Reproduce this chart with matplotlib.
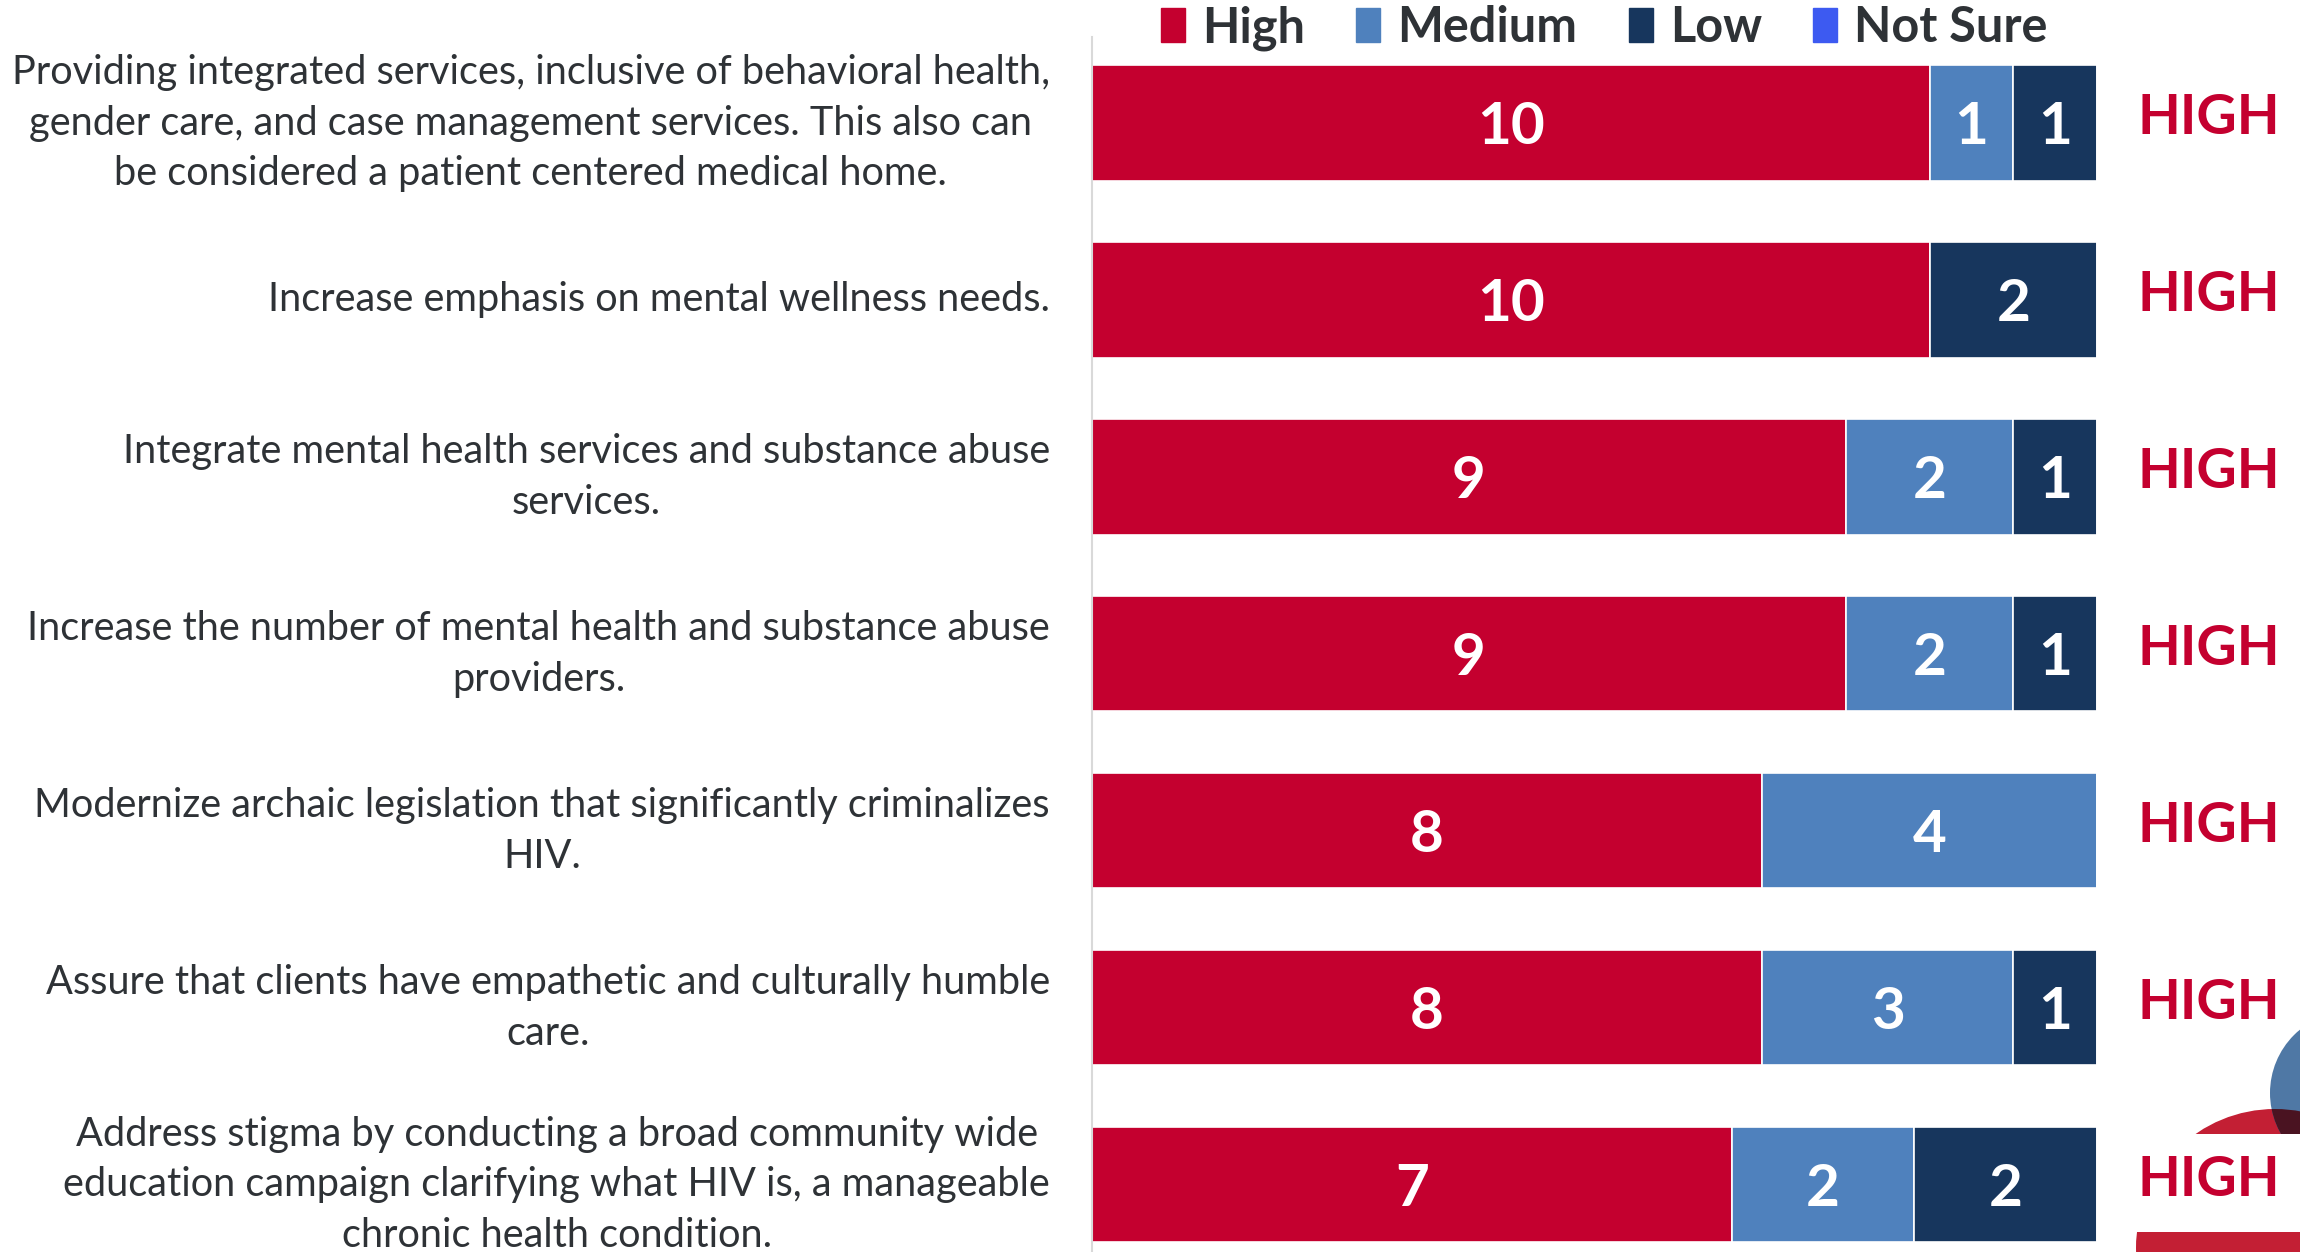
import matplotlib
matplotlib.use('Agg')
import matplotlib.pyplot as plt
from matplotlib.patches import Circle, Rectangle, Patch
from matplotlib import transforms

plt.rcParams['font.family'] = ['Lato', 'DejaVu Sans']

categories = [
    "Providing integrated services, inclusive of behavioral health,\n"
    "gender care, and case management services. This also can\n"
    "be considered a patient centered medical home.",
    "Increase emphasis on mental wellness needs.",
    "Integrate mental health services and substance abuse\nservices.",
    "Increase the number of mental health and substance abuse\nproviders.",
    "Modernize archaic legislation that significantly criminalizes\nHIV.",
    "Assure that clients have empathetic and culturally humble\ncare.",
    "Address stigma by conducting a broad community wide\n"
    "education campaign clarifying what HIV is, a manageable\n"
    "chronic health condition.",
]
high = [10, 10, 9, 9, 8, 8, 7]
medium = [1, 0, 2, 2, 4, 3, 2]
low = [1, 2, 1, 1, 0, 1, 2]
not_sure = [0, 0, 0, 0, 0, 0, 0]
priority = ["HIGH"] * 7

series = [("High", high, "#C4002F"),
          ("Medium", medium, "#4F81BD"),
          ("Low", low, "#17365D"),
          ("Not Sure", not_sure, "#3D5AF1")]

W, H = 2300, 1252
fig = plt.figure(figsize=(W / 100, H / 100), dpi=100)

# slide decoration behind the chart (bottom right corner)
deco = fig.add_axes([0, 0, 1, 1], zorder=0)
deco.set_xlim(0, W)
deco.set_ylim(H, 0)
deco.axis('off')
red = Circle((2275, 1248), 139, color="#C31F34", lw=0)
deco.add_patch(red)
deco.add_patch(Circle((2352, 1093), 82, color="#4F78A5", lw=0))
dark = Circle((2352, 1093), 82, color="#4A1321", lw=0)
deco.add_patch(dark)
dark.set_clip_path(red)
deco.add_patch(Rectangle((2137, 1134), 200, 98, color="white", lw=0))

ax = fig.add_axes([1092 / W, 0, 1005 / W, 1 - 37 / H], zorder=1)
ax.set_facecolor('none')

n = len(categories)
totals = [sum(s[1][i] for s in series) for i in range(n)]
rows = list(range(n))
left = [0.0] * n
for name, vals, color in series:
    widths = [v / t for v, t in zip(vals, totals)]
    ax.barh(rows, widths, left=left, height=0.65, color=color, label=name,
            edgecolor='white', linewidth=1.2)
    for i, (v, w) in enumerate(zip(vals, widths)):
        if v > 0:
            ax.text(left[i] + w / 2, i + 0.025, str(v), ha='center', va='center',
                    color='white', fontsize=42, fontweight='bold')
    left = [l + w for l, w in zip(left, widths)]

trans = transforms.blended_transform_factory(ax.transAxes, ax.transData)
for i, lab in enumerate(categories):
    ax.text(-0.0418, i, lab, transform=trans, ha='right', va='center',
            multialignment='center', fontsize=28.6, color='#2E3236',
            linespacing=1.45)
    ax.text(1.1115, i - 0.03, priority[i], transform=trans, ha='center', va='center',
            fontsize=40, fontweight='bold', color='#C4002F')

ax.set_xlim(0, 1)
ax.set_ylim(6.379, -0.486)
ax.set_xticks([])
ax.set_yticks([])
for s in ['top', 'right', 'bottom']:
    ax.spines[s].set_visible(False)
ax.spines['left'].set_color('#D9D9D9')
ax.spines['left'].set_linewidth(1.5)

handles = [Patch(color=c, label=nm) for nm, _, c in series]
fig.legend(handles=handles, loc='center', bbox_to_anchor=(0.6975, 1 - 28 / H),
           ncol=4, frameon=False, handlelength=0.5, handleheight=0.7,
           handletextpad=0.35, columnspacing=1.05, borderpad=0,
           prop={'weight': 'bold', 'size': 35}, labelcolor='#2E3236')

fig.savefig('out.png', dpi=100)
